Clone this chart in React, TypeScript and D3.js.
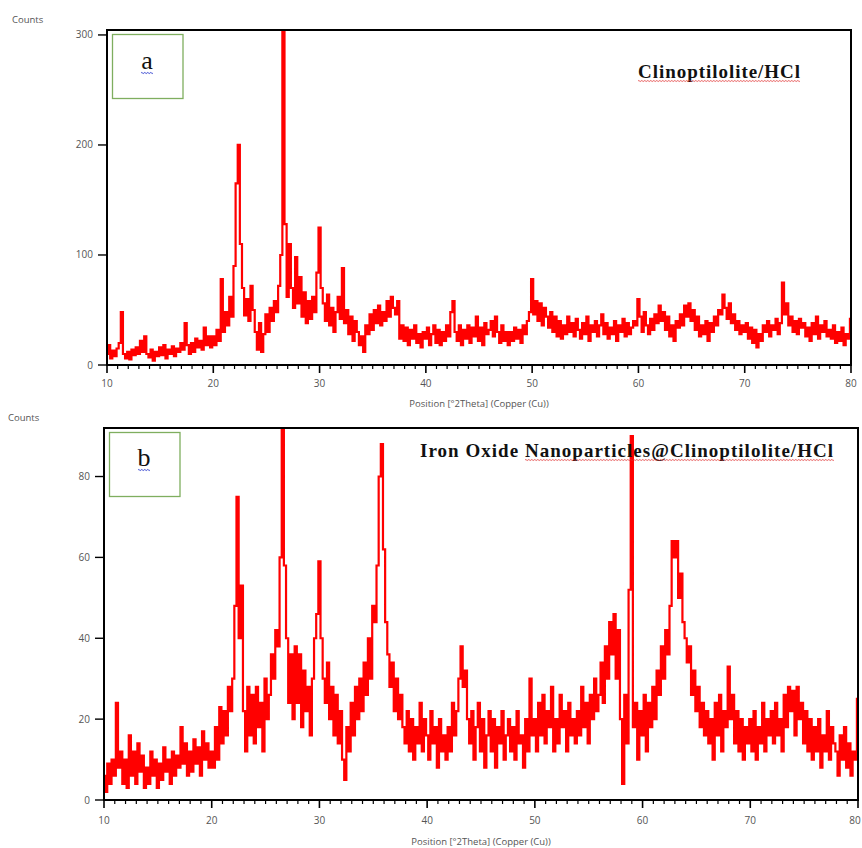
import * as d3 from "d3";
import { useEffect, useRef } from "react";

// scan grid: 10 to 80 degrees 2theta, 0.2 deg step
const scanStart = 10;
const scanStep = 0.2;

// panel a, Clinoptilolite/HCl (counts), one row = 2 degrees
const countsA = [
  10, 18, 6, 13, 8, 15, 20, 48, 10, 6,
  12, 5, 14, 9, 16, 10, 22, 12, 26, 10,
  7, 14, 4, 12, 8, 16, 9, 18, 6, 14,
  10, 17, 8, 15, 12, 20, 14, 38, 18, 10,
  20, 12, 24, 16, 22, 14, 34, 18, 26, 16,
  26, 18, 32, 22, 78, 30, 48, 36, 62, 44,
  90, 165, 200, 110, 70, 45, 60, 40, 72, 50,
  30, 14, 38, 12, 28, 46, 30, 52, 40, 58,
  48, 72, 100, 305, 128, 62, 110, 70, 52, 98,
  56, 80, 44, 66, 38, 58, 42, 62, 48, 84,
  125, 70, 56, 40, 64, 36, 52, 30, 48, 62,
  42, 88, 38, 50, 28, 44, 22, 40, 30, 18,
  26, 12, 36, 28, 46, 32, 50, 38, 54, 36,
  48, 40, 58, 44, 62, 52, 46, 58, 24, 36,
  22, 34, 18, 32, 24, 36, 20, 28, 16, 30,
  24, 34, 18, 28, 36, 20, 32, 18, 30, 22,
  36, 26, 48, 58, 30, 22, 36, 18, 32, 24,
  36, 20, 34, 26, 44, 22, 34, 18, 38, 28,
  32, 40, 26, 44, 30, 20, 36, 22, 30, 18,
  30, 22, 34, 24, 32, 20, 36, 28, 40, 48,
  78, 46, 58, 40, 56, 36, 52, 44, 34, 48,
  30, 44, 26, 40, 24, 36, 28, 44, 30, 38,
  26, 42, 32, 24, 38, 28, 44, 22, 36, 30,
  40, 26, 36, 46, 28, 38, 24, 34, 28, 40,
  22, 36, 30, 42, 26, 38, 28, 34, 40, 36,
  60, 44, 30, 48, 36, 28, 42, 32, 46, 38,
  54, 40, 48, 32, 44, 26, 36, 22, 40, 34,
  46, 36, 54, 44, 56, 40, 50, 32, 44, 26,
  36, 28, 40, 22, 38, 30, 44, 36, 50, 46,
  64, 52, 42, 56, 38, 46, 32, 40, 28, 36,
  30, 38, 24, 34, 20, 32, 16, 28, 22, 36,
  30, 40, 26, 36, 32, 42, 28, 38, 75, 46,
  56, 36, 44, 30, 40, 28, 42, 34, 38, 26,
  34, 22, 38, 28, 44, 24, 36, 30, 40, 26,
  32, 24, 36, 20, 30, 22, 34, 18, 28, 24,
  42,
];

// panel b, Iron Oxide Nanoparticles@Clinoptilolite/HCl (counts)
const countsB = [
  6, 2, 9, 4, 10, 6, 24, 8, 12, 4,
  10, 3, 16, 6, 12, 4, 14, 7, 11, 3,
  8, 4, 12, 6, 10, 3, 9, 5, 13, 7,
  10, 4, 12, 6, 11, 8, 18, 9, 14, 6,
  12, 7, 15, 9, 13, 6, 17, 10, 14, 8,
  12, 8, 18, 10, 23, 14, 22, 16, 28, 22,
  30, 48, 75, 40, 53, 22, 12, 28, 16, 26,
  14, 28, 18, 24, 12, 30, 20, 26, 36, 30,
  42, 38, 60, 92, 58, 40, 24, 36, 20, 38,
  24, 36, 18, 32, 22, 28, 16, 30, 40, 46,
  59, 40, 30, 24, 34, 20, 28, 16, 26, 14,
  22, 10, 5, 18, 12, 24, 16, 28, 20, 30,
  22, 34, 26, 40, 30, 48, 44, 58, 80, 88,
  62, 44, 36, 28, 34, 22, 30, 20, 26, 18,
  14, 22, 12, 20, 10, 18, 14, 24, 12, 20,
  16, 10, 22, 14, 18, 8, 20, 12, 16, 10,
  18, 12, 24, 16, 22, 30, 38, 28, 32, 20,
  14, 22, 10, 18, 24, 12, 20, 8, 16, 22,
  12, 20, 8, 18, 14, 22, 10, 16, 20, 12,
  18, 10, 22, 14, 16, 8, 20, 12, 30, 16,
  20, 12, 24, 16, 26, 14, 22, 18, 28, 12,
  20, 14, 26, 18, 22, 12, 24, 16, 20, 14,
  22, 16, 28, 18, 24, 14, 26, 20, 30, 22,
  26, 34, 24, 38, 30, 44, 36, 46, 30, 42,
  20, 4, 26, 14, 52, 90, 18, 24, 10, 22,
  16, 26, 12, 24, 18, 28, 20, 32, 26, 38,
  30, 42, 36, 48, 64, 60, 64, 50, 56, 44,
  40, 34, 38, 26, 32, 22, 28, 18, 24, 16,
  22, 14, 20, 10, 24, 16, 26, 12, 22, 18,
  33, 20, 26, 14, 22, 12, 20, 10, 18, 14,
  20, 12, 22, 10, 18, 14, 24, 12, 20, 16,
  22, 14, 24, 16, 20, 12, 26, 18, 28, 22,
  27, 16, 28, 20, 24, 14, 22, 12, 20, 10,
  18, 12, 20, 8, 16, 12, 22, 10, 18, 14,
  12, 6, 16, 10, 18, 8, 14, 6, 12, 10,
  25,
];

const xTickLabels = [10, 20, 30, 40, 50, 60, 70, 80];
const yTicksA = [0, 100, 200, 300];
const yTicksB = [0, 20, 40, 60, 80];
const xTitle = "Position [°2Theta] (Copper (Cu))";
const yTitle = "Counts";
const titleA = "Clinoptilolite/HCl";
const titleB = "Iron Oxide Nanoparticles@Clinoptilolite/HCl";

const panels = [
  {
    id: "a", counts: countsA, yMax: 304.5, yTicks: yTicksA,
    left: 107, right: 851, top: 30, bottom: 365,
    countsPos: [12, 23], xLabelY: 387, xTitleY: 407,
    box: [112.5, 34.5, 70.5, 64], letterPos: [147, 69],
    title: titleA, titleX: 638, titleY: 78, titleW: 162, underlineFrom: 638,
  },
  {
    id: "b", counts: countsB, yMax: 92, yTicks: yTicksB,
    left: 104, right: 858, top: 428, bottom: 800,
    countsPos: [8, 421], xLabelY: 824, xTitleY: 845,
    box: [109.5, 432.5, 70.5, 64], letterPos: [144, 466],
    title: titleB, titleX: 420, titleY: 457, titleW: 413, underlineFrom: 525,
  },
];

const wavy = (x1, x2, y, amp = 1.2, period = 4) => {
  const p = d3.path();
  p.moveTo(x1, y);
  for (let x = x1; x < x2; x += period) {
    p.quadraticCurveTo(x + period / 4, y - amp, x + period / 2, y);
    p.quadraticCurveTo(x + (3 * period) / 4, y + amp, x + period, y);
  }
  return p.toString();
};

const axisFont = "'Open Sans', 'DejaVu Sans', sans-serif";

const redraw = (svgRef) => {
  const svg = d3.select(svgRef.current);
  svg.selectAll("*").remove();

  panels.forEach((cfg) => {
    const g = svg.append("g");
    const x = d3.scaleLinear().domain([10, 80]).range([cfg.left, cfg.right]);
    const y = d3.scaleLinear().domain([0, cfg.yMax]).range([cfg.bottom, cfg.top]);

    const data = cfg.counts.map((c, i) => ({ pos: scanStart + i * scanStep, c }));

    svg.append("clipPath").attr("id", "clip-" + cfg.id)
      .append("rect")
      .attr("x", cfg.left).attr("y", cfg.top)
      .attr("width", cfg.right - cfg.left).attr("height", cfg.bottom - cfg.top);

    const line = d3.line()
      .x((d) => x(d.pos))
      .y((d) => y(d.c))
      .curve(d3.curveStep);

    g.append("path")
      .datum(data)
      .attr("clip-path", `url(#clip-${cfg.id})`)
      .attr("fill", "none")
      .attr("stroke", "#ff0000")
      .attr("stroke-width", 2.2)
      .attr("d", line);

    // frame
    g.append("rect")
      .attr("x", cfg.left).attr("y", cfg.top)
      .attr("width", cfg.right - cfg.left).attr("height", cfg.bottom - cfg.top)
      .attr("fill", "none").attr("stroke", "#000").attr("stroke-width", 2);

    // x ticks, minor every degree
    const minor = d3.range(10, 81, 1);
    g.selectAll(".xt-" + cfg.id)
      .data(minor)
      .join("line")
      .attr("x1", (d) => x(d)).attr("x2", (d) => x(d))
      .attr("y1", cfg.bottom)
      .attr("y2", (d) => cfg.bottom + (d % 10 === 0 ? 8 : 4))
      .attr("stroke", "#000").attr("stroke-width", (d) => (d % 10 === 0 ? 1.6 : 1.2));

    g.selectAll(".xl-" + cfg.id)
      .data(xTickLabels)
      .join("text")
      .attr("x", (d) => Math.min(x(d), 855))
      .attr("y", cfg.xLabelY)
      .attr("text-anchor", "middle")
      .attr("font-family", axisFont).attr("font-size", 10)
      .attr("fill", "#555")
      .text((d) => d);

    g.selectAll(".yt-" + cfg.id)
      .data(cfg.yTicks)
      .join("line")
      .attr("x1", cfg.left - 9).attr("x2", cfg.left)
      .attr("y1", (d) => y(d)).attr("y2", (d) => y(d))
      .attr("stroke", "#000").attr("stroke-width", 1.4);

    g.selectAll(".yl-" + cfg.id)
      .data(cfg.yTicks)
      .join("text")
      .attr("x", cfg.left - 14).attr("y", (d) => y(d) + 3.5)
      .attr("text-anchor", "end")
      .attr("font-family", axisFont).attr("font-size", 10)
      .attr("fill", "#555")
      .text((d) => d);

    g.append("text")
      .attr("x", cfg.countsPos[0]).attr("y", cfg.countsPos[1])
      .attr("font-family", axisFont).attr("font-size", 9.5)
      .attr("fill", "#555")
      .text(yTitle);

    g.append("text")
      .attr("x", (cfg.left + cfg.right) / 2).attr("y", cfg.xTitleY)
      .attr("text-anchor", "middle")
      .attr("font-family", axisFont).attr("font-size", 9.5)
      .attr("fill", "#555")
      .text(xTitle);

    // panel letter box
    const [bx, by, bw, bh] = cfg.box;
    g.append("rect")
      .attr("x", bx).attr("y", by).attr("width", bw).attr("height", bh)
      .attr("fill", "#fff").attr("stroke", "#7fae5f").attr("stroke-width", 1.3);
    g.append("text")
      .attr("x", cfg.letterPos[0]).attr("y", cfg.letterPos[1])
      .attr("text-anchor", "middle")
      .attr("font-family", "'Liberation Serif', serif").attr("font-size", 26)
      .attr("fill", "#111")
      .text(cfg.id);
    g.append("path")
      .attr("d", wavy(cfg.letterPos[0] - 6, cfg.letterPos[0] + 6, cfg.letterPos[1] + 4, 1, 3))
      .attr("fill", "none").attr("stroke", "#2233cc").attr("stroke-width", 0.9);

    // sample title
    g.append("text")
      .attr("x", cfg.titleX).attr("y", cfg.titleY)
      .attr("font-family", "'Liberation Serif', serif").attr("font-size", 19)
      .attr("font-weight", "bold").attr("fill", "#111")
      .attr("textLength", cfg.titleW).attr("lengthAdjust", "spacing")
      .text(cfg.title);
    g.append("path")
      .attr("d", wavy(cfg.underlineFrom, cfg.titleX + cfg.titleW, cfg.titleY + 3, 0.9, 3))
      .attr("fill", "none").attr("stroke", "#e03030").attr("stroke-width", 0.8);
  });
};

export default function App() {
  const svgRef = useRef(null);

  useEffect(() => {
    redraw(svgRef);
  }, []);

  return (
    <svg
      ref={svgRef}
      width={862}
      height={848}
      style={{ position: "absolute", left: 0, top: 0, background: "#fff" }}
    />
  );
}
